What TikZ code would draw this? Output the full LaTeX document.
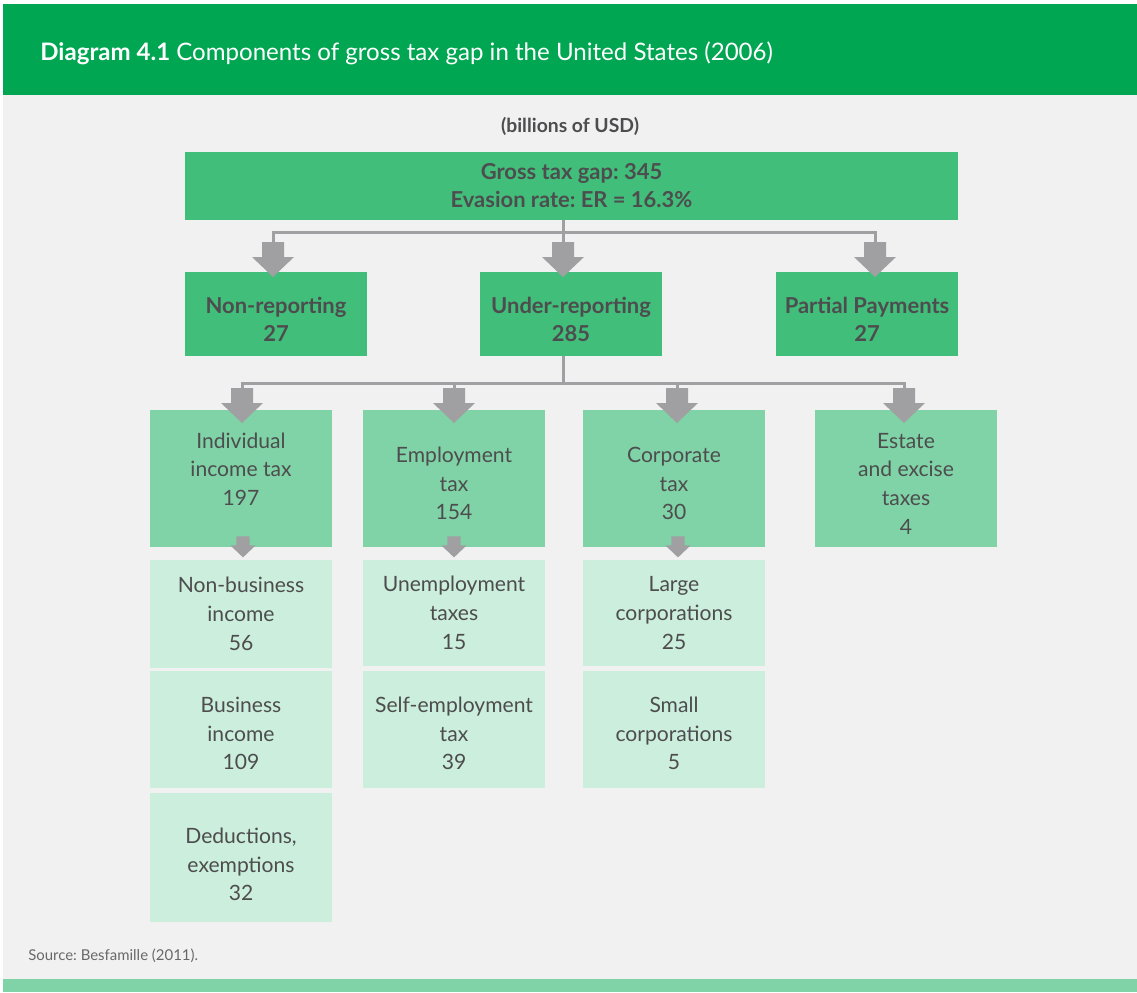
\documentclass[tikz,border=0pt]{standalone}
\usepackage{fontspec}
\setmainfont{Lato}
\usetikzlibrary{calc}
\frenchspacing
\definecolor{Chead}{HTML}{00A651}
\definecolor{Cmid}{HTML}{41BF7A}
\definecolor{Ctax}{HTML}{80D3A6}
\definecolor{Csub}{HTML}{CCEEDC}
\definecolor{Cbg}{HTML}{F1F1F1}
\definecolor{Carr}{HTML}{A0A0A2}
\definecolor{Ctext}{HTML}{4D4D4F}
%% strut on the first line, to push the text a little down in its box
\newcommand{\sdrop}[1][14.5pt]{\rule{0pt}{#1}}
\tikzset{
  topbox/.style={fill=Cmid, inner sep=0pt, outer sep=0pt, align=center,
    text=Ctext, font=\fontsize{12.5}{15.9}\selectfont\bfseries},
  repbox/.style={topbox, minimum width=3.64cm, minimum height=1.68cm},
  taxbox/.style={fill=Ctax, inner sep=0pt, outer sep=0pt, align=center,
    text=Ctext, font=\fontsize{12}{16.4}\selectfont,
    minimum width=3.64cm, minimum height=2.74cm},
  subbox/.style={taxbox, fill=Csub},
  conn/.style={draw=Carr, line width=0.06cm},
  %% block arrow, origin at the top of its shaft
  pics/downarr/.style={code={%
    \fill[Carr] (-11,-1) -- (11,-1) -- (11,14) -- (21,14) -- (0,34)
      -- (-21,14) -- (-11,14) -- cycle;
  }},
}
\begin{document}
\begin{tikzpicture}[x=0.02cm, y=-0.02cm]
\useasboundingbox (0,0) rectangle (1137,992);

%%==========================================================================
%% FRAME — page background, title band, foot band
%%==========================================================================
\fill[white] (0,0) rectangle (1137,992);
\fill[Cbg] (3,4) rectangle (1137,979);
\fill[Chead] (3,4) rectangle (1137,95);
\fill[Ctax] (3,979) rectangle (1137,992);

\node[anchor=base west, inner sep=0pt, text=white,
  font=\fontsize{13.7}{16}\selectfont] (title) at (40,60)
  {\textbf{Diagram 4.1} Components of gross tax gap in the United States (2006)};
\node[text=Ctext, font=\fontsize{11}{13}\selectfont\bfseries] (unit) at (570,126)
  {(billions of USD)};

%%==========================================================================
%% LEVEL 1 and 2 — gross gap and its three parts
%%==========================================================================
\node[topbox, minimum width=15.46cm, minimum height=1.36cm] (gross) at (571.5,186)
  {Gross tax gap: 345\\Evasion rate: ER = 16.3\%};

\node[repbox] (nonrep)   at (276,314) {\sdrop[15.5pt]Non-reporting\\27};
\node[repbox] (underrep) at (571,314) {\sdrop[15.5pt]Under-reporting\\285};
\node[repbox] (partial)  at (867,314) {\sdrop[15.5pt]Partial Payments\\27};

\coordinate (bar1)       at (563,232);
\coordinate (in-nonrep)  at (273,243);
\coordinate (in-under)   at (563,243);
\coordinate (in-partial) at (875,243);

\draw[conn] (gross.south -| bar1) -- (in-under);
\draw[conn] (in-nonrep) |- (bar1) -| (in-partial);

%%==========================================================================
%% LEVEL 3 — parts of under-reporting
%%==========================================================================
\node[taxbox] (indiv)  at (241,478.5) {\sdrop Individual\\income tax\\197\\~};
\node[taxbox] (employ) at (454,478.5) {\sdrop Employment\\tax\\154};
\node[taxbox] (corp)   at (674,478.5) {\sdrop Corporate\\tax\\30};
\node[taxbox] (estate) at (906,478.5) {\sdrop Estate\\and excise\\taxes\\4};

\coordinate (bar2)      at (563,383);
\coordinate (in-indiv)  at (242,389);
\coordinate (in-employ) at (454,389);
\coordinate (in-corp)   at (677,389);
\coordinate (in-estate) at (904,389);

\draw[conn] (underrep.south -| bar2) -- (bar2);
\draw[conn] (in-indiv) |- (bar2) -| (in-estate);
\draw[conn] (in-employ) -- (in-employ |- bar2);
\draw[conn] (in-corp) -- (in-corp |- bar2);

%%==========================================================================
%% LEVEL 4 — breakdowns
%%==========================================================================
\node[subbox, minimum height=2.16cm] (nonbus)   at (241,614)   {Non-business\\income\\56};
\node[subbox, minimum height=2.34cm] (business) at (241,729.5) {\sdrop[13.3pt]Business\\income\\109};
\node[subbox, minimum height=2.58cm] (deduct)   at (241,857.5) {\sdrop[16.7pt]Deductions,\\exemptions\\32};
\node[subbox, minimum height=2.12cm] (unemp)    at (454,613)   {Unemployment\\taxes\\15};
\node[subbox, minimum height=2.34cm] (selfemp)  at (454,729.5) {\sdrop[13.3pt]Self-employment\\tax\\39};
\node[subbox, minimum height=2.12cm] (large)    at (674,613)   {Large\\corporations\\25};
\node[subbox, minimum height=2.34cm] (small)    at (674,729.5) {\sdrop[13.3pt]Small\\corporations\\5};

%% arrows (drawn last so they sit on the boxes)
\foreach \p in {in-nonrep, in-under, in-partial, in-indiv, in-employ, in-corp, in-estate}
  \pic at (\p) {downarr};
\pic[scale=0.6] at (243,537) {downarr};
\pic[scale=0.6] at (454,537) {downarr};
\pic[scale=0.6] at (678,537) {downarr};

\node[anchor=base west, inner sep=0pt, text=Ctext!85,
  font=\fontsize{8.5}{10}\selectfont] (source) at (28,960) {Source: Besfamille (2011).};

\end{tikzpicture}
\end{document}
